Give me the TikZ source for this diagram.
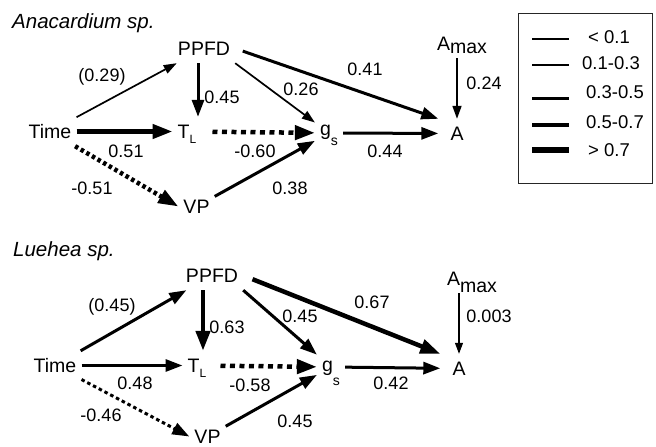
\documentclass[tikz,border=0pt]{standalone}
\usepackage{fontspec}
\setmainfont{Liberation Sans}
\usetikzlibrary{arrows.meta}

\begin{document}
\begin{tikzpicture}[x=1pt,y=-1pt,
  font=\fontsize{18}{20}\selectfont,
  var/.style={inner xsep=5pt, inner ysep=8pt, anchor=base, text height=13pt, text depth=0pt,
              font=\fontsize{19.5}{22}\selectfont},
  resp/.style={var, inner xsep=12pt},
  coef/.style={inner sep=0pt},
  title/.style={inner sep=0pt, anchor=base west, font=\fontsize{20.5}{22}\selectfont\itshape},
  wa/.style={line width=1.1pt, -{Triangle[length=11pt,width=8pt]}},
  wb/.style={line width=1.7pt, -{Triangle[length=13pt,width=9pt]}},
  wc/.style={line width=3pt, -{Triangle[length=17pt,width=12pt]}},
  wd/.style={line width=4.5pt, -{Triangle[length=20pt,width=14pt]}},
  dashedpath/.style={dash pattern=on 5pt off 4.5pt},
  dottedpath/.style={dash pattern=on 3.5pt off 3pt},
  legline/.style={line width=#1},
  leglabel/.style={inner sep=0pt, anchor=west, font=\fontsize{18.5}{20}\selectfont}
]
\useasboundingbox (0,0) rectangle (656,447);

% ---------- Anacardium ----------
\node[title] (t1) at (12,28) {Anacardium sp.};
\node[var] (ppfd1) at (204,55) {PPFD};
\node[var] (time1) at (50,138) {Time};
\node[var] (tl1) at (187,138) {T\raisebox{-5pt}{\fontsize{12}{12}\selectfont L}};
\node[var] (gs1) at (329,139.5) {\raisebox{4pt}{g}\raisebox{-6pt}{\fontsize{14}{14}\selectfont s}};
\node[resp] (a1) at (457,140) {A};
\node[var] (amax1) at (462,50) {A\raisebox{-3pt}{max}};
\node[var] (vp1) at (196.5,213) {VP};

\draw[wb] (time1) -- (ppfd1);
\draw[wc] ([xshift=-6pt]ppfd1.south) -- ([xshift=-6pt]ppfd1.south |- tl1.north);
\draw[wb] (ppfd1.south east) -- (gs1);
\draw[wc, shorten <=8pt] (ppfd1.east) -- (a1.north west);
\draw[wb] (a1.north |- amax1.south) -- (a1.north);
\draw[wd] (time1) -- (tl1);
\draw[wd, dashedpath, shorten <=11pt] (tl1) -- (gs1);
\draw[wd, dottedpath] (time1) -- (vp1.west);
\draw[wc] (vp1) -- (gs1);
\draw[wc] (gs1) -- (a1);

\node[coef] (c1a) at (102,77) {(0.29)};
\node[coef] (c1b) at (222,97) {0.45};
\node[coef] (c1c) at (301,89) {0.26};
\node[coef] (c1d) at (365,69) {0.41};
\node[coef] (c1e) at (484,83) {0.24};
\node[coef] (c1f) at (126,151) {0.51};
\node[coef] (c1g) at (255,151) {-0.60};
\node[coef] (c1h) at (92,188) {-0.51};
\node[coef] (c1i) at (290,188) {0.38};
\node[coef] (c1j) at (385,151) {0.44};

% ---------- legend ----------
\node[draw=black!85, line width=1.2pt, minimum width=134pt, minimum height=170pt,
      inner sep=0pt, anchor=north west] (legend) at (518,13) {};
\foreach \w/\y/\lx/\ly/\txt [count=\i] in
  {1.1pt/39/588/37/{< 0.1}, 1.7pt/65/582/63/{0.1-0.3}, 3pt/98/586/92/{0.3-0.5},
   4.5pt/125/586/122/{0.5-0.7}, 6pt/150/588/150/{> 0.7}} {
  \coordinate (ls\i) at (532,\y);
  \coordinate (le\i) at (569,\y);
  \draw[legline=\w] (ls\i) -- (le\i);
  \node[leglabel] (lab\i) at (\lx,\ly) {\txt};
}

% ---------- Luehea ----------
\node[title] (t2) at (13,256) {Luehea sp.};
\node[var] (ppfd2) at (212,282) {PPFD};
\node[var] (time2) at (55,372) {Time};
\node[var] (tl2) at (197,372) {T\raisebox{-5pt}{\fontsize{12}{12}\selectfont L}};
\node[var] (gs2) at (331,373.5) {\raisebox{2.5pt}{g}\raisebox{-11.5pt}{\fontsize{14}{14}\selectfont s}};
\node[resp] (a2) at (459,375) {A};
\node[var] (amax2) at (472,285) {A\raisebox{-7pt}{max}};
\node[var] (vp2) at (207.5,443) {VP};

\draw[wc] (time2) -- (ppfd2);
\draw[wd] ([xshift=-9pt]ppfd2.south) -- ([xshift=-9pt]ppfd2.south |- tl2.north);
\draw[wc] (ppfd2.south east) -- (gs2);
\draw[wd, shorten <=10pt] (ppfd2.east) -- (a2.north west);
\draw[wa] (a2.north |- amax2.south) -- (a2.north);
\draw[wc] (time2) -- (tl2);
\draw[wd, dashedpath, shorten <=9pt] (tl2) -- (gs2);
\draw[wc, dottedpath] (time2) -- (vp2.west);
\draw[wc] (vp2) -- (gs2);
\draw[wc] (gs2) -- (a2);

\node[coef] (c2a) at (112,307) {(0.45)};
\node[coef] (c2b) at (227,327) {0.63};
\node[coef] (c2c) at (300,316) {0.45};
\node[coef] (c2d) at (372,302) {0.67};
\node[coef] (c2e) at (489,316) {0.003};
\node[coef] (c2f) at (135,383) {0.48};
\node[coef] (c2g) at (250,385) {-0.58};
\node[coef] (c2h) at (101,415) {-0.46};
\node[coef] (c2i) at (295,421) {0.45};
\node[coef] (c2j) at (391,383) {0.42};
\end{tikzpicture}
\end{document}
